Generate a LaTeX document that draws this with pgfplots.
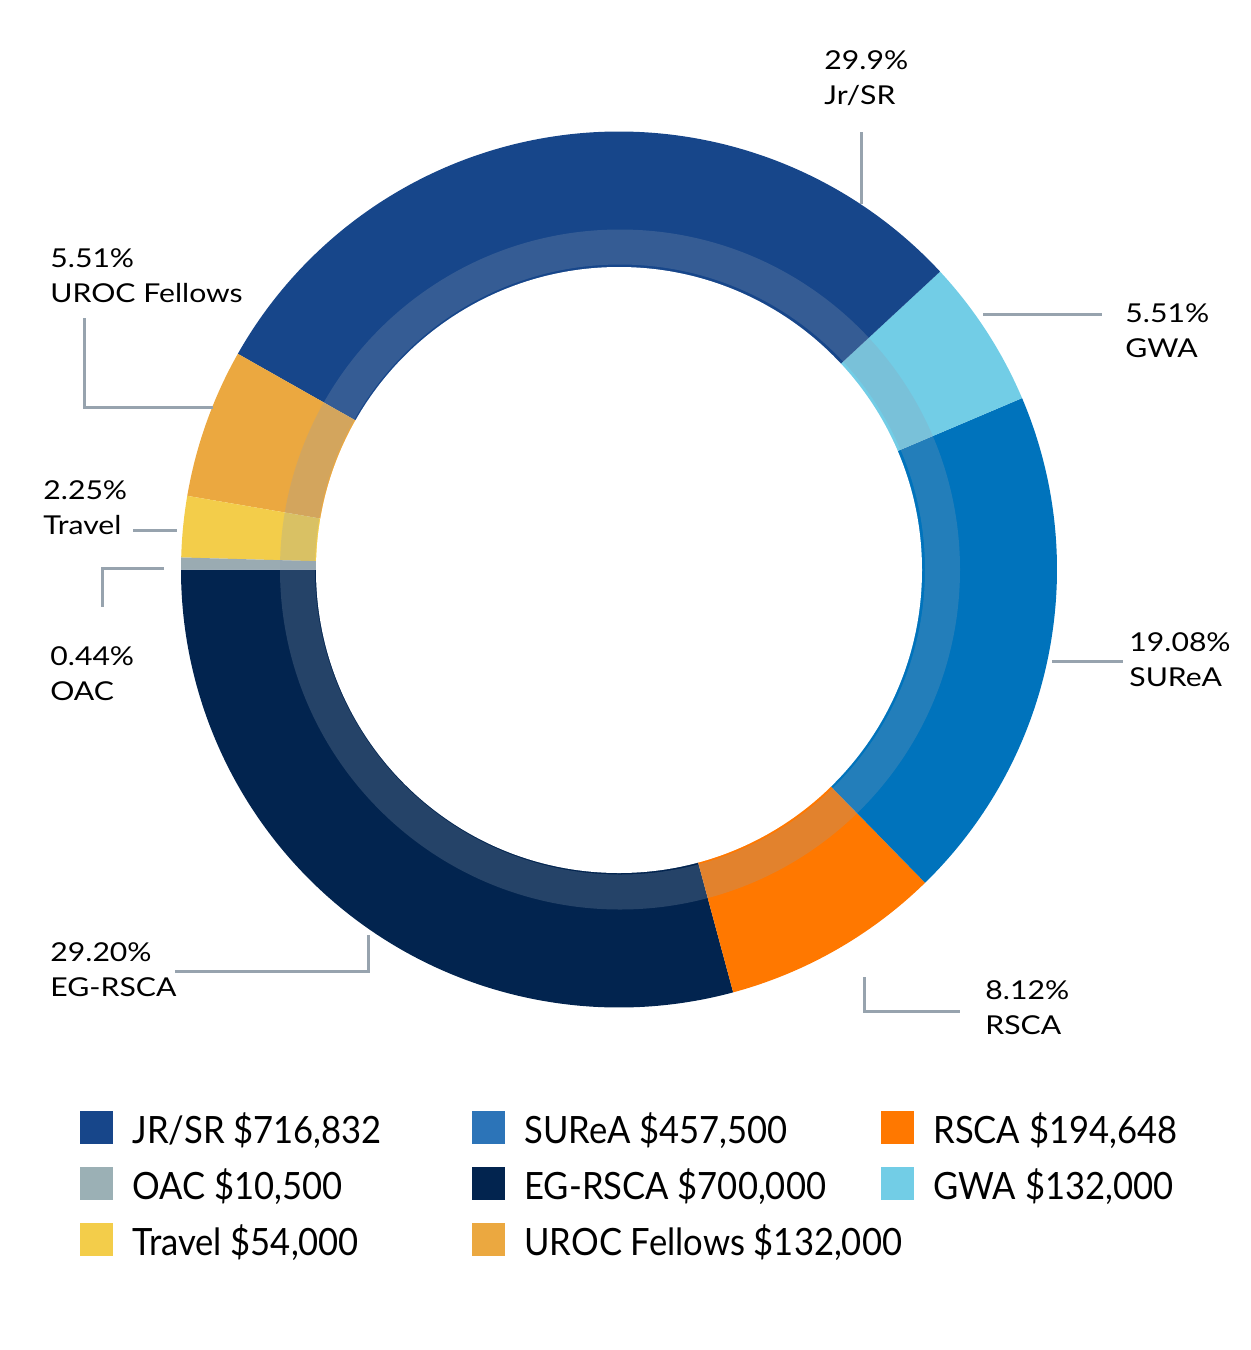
\documentclass[border=0pt]{standalone}
\usepackage{fontspec}
\setmainfont{Lato}
\newfontfamily\lblfont[FakeStretch=1.16]{Lato}
\newfontfamily\legfont[FakeStretch=0.92]{Lato}
\usepackage{pgfplots}
\usepackage{pgfplotstable}
\pgfplotsset{compat=1.18}

\definecolor{cJR}{HTML}{17468A}
\definecolor{cSU}{HTML}{0073BC}
\definecolor{cSUleg}{HTML}{2C74B8}
\definecolor{cRS}{HTML}{FF7800}
\definecolor{cEG}{HTML}{02244F}
\definecolor{cGW}{HTML}{72CDE6}
\definecolor{cOA}{HTML}{9AABB2}
\definecolor{cOAleg}{HTML}{9BB0B5}
\definecolor{cTR}{HTML}{F3CD4A}
\definecolor{cUR}{HTML}{EBA840}
\definecolor{cLine}{HTML}{97A3AE}
\definecolor{cBand}{HTML}{8FA0B5}

% amounts in thousands of dollars, counter-clockwise from the left (180 deg)
\pgfplotstableread{
label amount
EG-RSCA 700.000
RSCA 194.648
SUReA 457.500
GWA 132.000
JR/SR 716.832
UROC 132.000
Travel 54.000
OAC 10.500
}\budget

\newcommand\lbl[1]{\lblfont\fontsize{13}{15}\selectfont #1}
\newcommand\leg[1]{\legfont\fontsize{18.8}{22}\selectfont #1}
\def\R{219pt}
\newcommand\seg[3]{\fill[#1] (axis cs:619,569.5) -- ++(#2:\R) arc[start angle=#2, end angle=#3, radius=\R] -- cycle;}
\newcommand\twoline[4]{%
  \node[anchor=base west, inner sep=0pt] at (axis cs:#1,#2) {\lbl{#3}};
  \node[anchor=base west, inner sep=0pt] at (axis cs:#1,#2+35) {\lbl{#4}};}
\newcommand\legitem[4]{%
  \fill[#1] (axis cs:#2,#3-32) rectangle (axis cs:#2+33,#3+1);
  \node[anchor=base west, inner sep=0pt] at (axis cs:#2+52,#3) {\leg{#4}};}

\begin{document}
\begin{tikzpicture}
\pgfplotstablegetelem{0}{amount}\of\budget\let\vA\pgfplotsretval
\pgfplotstablegetelem{1}{amount}\of\budget\let\vB\pgfplotsretval
\pgfplotstablegetelem{2}{amount}\of\budget\let\vC\pgfplotsretval
\pgfplotstablegetelem{3}{amount}\of\budget\let\vD\pgfplotsretval
\pgfplotstablegetelem{4}{amount}\of\budget\let\vE\pgfplotsretval
\pgfplotstablegetelem{5}{amount}\of\budget\let\vF\pgfplotsretval
\pgfplotstablegetelem{6}{amount}\of\budget\let\vG\pgfplotsretval
\pgfplotstablegetelem{7}{amount}\of\budget\let\vH\pgfplotsretval
\pgfmathsetmacro\tot{\vA+\vB+\vC+\vD+\vE+\vF+\vG+\vH}
\pgfmathsetmacro\aA{180}
\pgfmathsetmacro\aB{\aA+360*(\vA/\tot)}
\pgfmathsetmacro\aC{\aB+360*(\vB/\tot)}
\pgfmathsetmacro\aD{\aC+360*(\vC/\tot)}
\pgfmathsetmacro\aE{\aD+360*(\vD/\tot)}
\pgfmathsetmacro\aF{\aE+360*(\vE/\tot)}
\pgfmathsetmacro\aG{\aF+360*(\vF/\tot)}
\pgfmathsetmacro\aH{\aG+360*(\vG/\tot)}
\pgfmathsetmacro\aI{540}
\begin{axis}[
  x=0.5pt, y=0.5pt,
  xmin=0, xmax=1250, ymin=0, ymax=1350,
  y dir=reverse,
  hide axis, clip=false, enlargelimits=false,
]
\seg{cEG}{\aA}{\aB}
\seg{cRS}{\aB}{\aC}
\seg{cSU}{\aC}{\aD}
\seg{cGW}{\aD}{\aE}
\seg{cJR}{\aE}{\aF}
\seg{cUR}{\aF}{\aG}
\seg{cTR}{\aG}{\aH}
\seg{cOA}{\aH}{\aI}
% translucent inner band and hole
\fill[cBand, opacity=0.25, even odd rule] (axis cs:620,569.5) circle[radius=170pt] (axis cs:620,569.5) circle[radius=152.5pt];
\fill[white] (axis cs:619,570) circle[radius=151.5pt];

% leader lines
\draw[cLine, line width=1.5pt] (axis cs:861,132) -- (axis cs:861,204);
\draw[cLine, line width=1.5pt] (axis cs:84,318) -- (axis cs:84,407) -- (axis cs:213,407);
\draw[cLine, line width=1.5pt] (axis cs:133,530) -- (axis cs:177,530);
\draw[cLine, line width=1.5pt] (axis cs:164,568) -- (axis cs:102,568) -- (axis cs:102,607);
\draw[cLine, line width=1.5pt] (axis cs:983,314) -- (axis cs:1102,314);
\draw[cLine, line width=1.5pt] (axis cs:1052,661) -- (axis cs:1123,661);
\draw[cLine, line width=1.5pt] (axis cs:175,971) -- (axis cs:368,971) -- (axis cs:368,935);
\draw[cLine, line width=1.5pt] (axis cs:864,977) -- (axis cs:864,1011) -- (axis cs:960,1011);

% labels
\twoline{824}{69}{29.9\%}{Jr/SR}
\twoline{50}{267}{5.51\%}{UROC Fellows}
\twoline{43}{499}{2.25\%}{Travel}
\twoline{50}{665}{0.44\%}{OAC}
\twoline{1125}{322}{5.51\%}{GWA}
\twoline{1129}{651}{19.08\%}{SUReA}
\twoline{50}{961}{29.20\%}{EG-RSCA}
\twoline{985}{999}{8.12\%}{RSCA}

% legend
\legitem{cJR}{80}{1143}{JR/SR \$716,832}
\legitem{cOAleg}{80}{1199}{OAC \$10,500}
\legitem{cTR}{80}{1255}{Travel \$54,000}
\legitem{cSUleg}{472}{1143}{SUReA \$457,500}
\legitem{cEG}{472}{1199}{EG-RSCA \$700,000}
\legitem{cUR}{472}{1255}{UROC Fellows \$132,000}
\legitem{cRS}{881}{1143}{RSCA \$194,648}
\legitem{cGW}{881}{1199}{GWA \$132,000}
\end{axis}
\pgfresetboundingbox
\useasboundingbox (current axis.south west) rectangle (current axis.north east);
\end{tikzpicture}
\end{document}
